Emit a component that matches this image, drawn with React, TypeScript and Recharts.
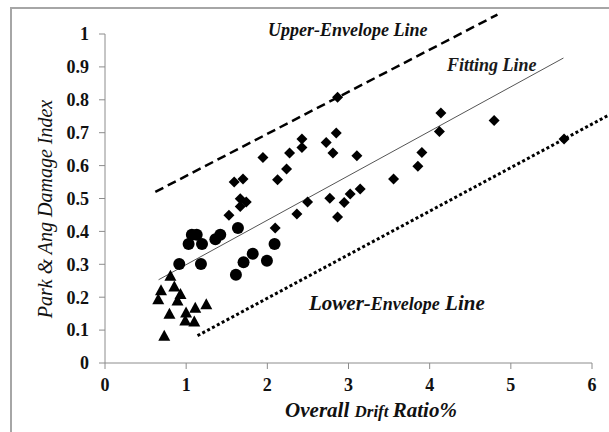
import React from "react";
import { ScatterChart, Scatter, XAxis, YAxis, ReferenceLine } from "recharts";

const triangles = [
  { x: 0.806, y: 0.263 }, { x: 0.854, y: 0.231 }, { x: 0.69, y: 0.219 },
  { x: 0.656, y: 0.192 }, { x: 0.93, y: 0.208 }, { x: 0.893, y: 0.188 },
  { x: 0.794, y: 0.148 }, { x: 0.999, y: 0.152 }, { x: 1.112, y: 0.166 },
  { x: 1.248, y: 0.177 }, { x: 0.989, y: 0.127 }, { x: 1.1, y: 0.124 },
  { x: 0.73, y: 0.081 },
];

const circles = [
  { x: 0.915, y: 0.301 }, { x: 1.03, y: 0.362 }, { x: 1.07, y: 0.39 },
  { x: 1.13, y: 0.39 }, { x: 1.195, y: 0.362 }, { x: 1.182, y: 0.301 },
  { x: 1.36, y: 0.376 }, { x: 1.42, y: 0.39 }, { x: 1.638, y: 0.41 },
  { x: 1.613, y: 0.268 }, { x: 1.707, y: 0.306 }, { x: 1.82, y: 0.332 },
  { x: 1.995, y: 0.311 }, { x: 2.089, y: 0.362 },
];

const diamonds = [
  { x: 1.527, y: 0.449 }, { x: 1.592, y: 0.55 }, { x: 1.7, y: 0.559 },
  { x: 1.666, y: 0.499 }, { x: 1.74, y: 0.489 }, { x: 1.666, y: 0.476 },
  { x: 1.946, y: 0.625 }, { x: 2.126, y: 0.557 }, { x: 2.237, y: 0.59 },
  { x: 2.274, y: 0.638 }, { x: 2.426, y: 0.681 }, { x: 2.426, y: 0.655 },
  { x: 2.097, y: 0.41 }, { x: 2.364, y: 0.453 }, { x: 2.496, y: 0.489 },
  { x: 2.725, y: 0.67 }, { x: 2.77, y: 0.501 }, { x: 2.808, y: 0.638 },
  { x: 2.849, y: 0.699 }, { x: 2.865, y: 0.808 }, { x: 3.103, y: 0.63 },
  { x: 2.865, y: 0.444 }, { x: 2.947, y: 0.488 }, { x: 3.021, y: 0.514 },
  { x: 3.144, y: 0.529 }, { x: 3.555, y: 0.559 }, { x: 3.855, y: 0.598 },
  { x: 3.904, y: 0.64 }, { x: 4.12, y: 0.704 }, { x: 4.138, y: 0.76 },
  { x: 4.794, y: 0.737 }, { x: 5.656, y: 0.681 },
];

const upperLine = [{ x: 0.62, y: 0.52 }, { x: 4.835, y: 1.059 }];
const fittingLine = [{ x: 0.66, y: 0.253 }, { x: 5.648, y: 0.927 }];
const lowerLine = [{ x: 1.14, y: 0.083 }, { x: 6.21, y: 0.754 }];

const xTicks = [0, 1, 2, 3, 4, 5, 6];
const yTicks = [0, 0.1, 0.2, 0.3, 0.4, 0.5, 0.6, 0.7, 0.8, 0.9, 1];

const SERIF = "'Liberation Serif', 'Times New Roman', serif";

const Tri = (p: any) => {
  const { cx, cy } = p;
  if (cx == null || cy == null) return null;
  const h = 11, w = 12;
  return (
    <polygon
      points={`${cx},${cy - h * 0.6} ${cx - w / 2},${cy + h * 0.4} ${cx + w / 2},${cy + h * 0.4}`}
      fill="#000"
    />
  );
};

const Dot = (p: any) => {
  const { cx, cy } = p;
  if (cx == null || cy == null) return null;
  return <circle cx={cx} cy={cy} r={6} fill="#000" />;
};

const Dia = (p: any) => {
  const { cx, cy } = p;
  if (cx == null || cy == null) return null;
  const r = 5.5;
  return (
    <polygon
      points={`${cx},${cy - r} ${cx + r},${cy} ${cx},${cy + r} ${cx - r},${cy}`}
      fill="#000"
    />
  );
};

const tickStyle = { fontFamily: SERIF, fontWeight: 700, fontSize: 18, fill: "#111" };

export default function App() {
  return (
    <div
      style={{
        position: "fixed",
        left: 0,
        top: 0,
        width: 609,
        height: 432,
        overflow: "hidden",
        background: "#fff",
      }}
    >
      <div
        style={{
          position: "absolute",
          left: 10,
          top: 7,
          width: 640,
          height: 460,
          borderLeft: "2px solid #a6a6a6",
          borderTop: "2px solid #a6a6a6",
        }}
      />
      <div style={{ position: "absolute", left: 0, top: 0 }}>
        <ScatterChart
          width={609}
          height={432}
          margin={{ top: 34, right: 17, bottom: 39, left: 0 }}
        >
          <XAxis
            type="number"
            dataKey="x"
            domain={[0, 6]}
            ticks={xTicks}
            height={30}
            tickSize={6}
            tickMargin={9}
            stroke="#8c8c8c"
            tick={tickStyle}
            interval={0}
          />
          <YAxis
            type="number"
            dataKey="y"
            domain={[0, 1]}
            ticks={yTicks}
            width={105}
            tickSize={6}
            tickMargin={10}
            stroke="#8c8c8c"
            tick={tickStyle}
            interval={0}
          />
          <ReferenceLine
            segment={upperLine}
            ifOverflow="visible"
            stroke="#000"
            strokeWidth={2.5}
            strokeDasharray="9 5"
          />
          <ReferenceLine
            segment={fittingLine}
            ifOverflow="visible"
            stroke="#555"
            strokeWidth={1}
          />
          <ReferenceLine
            segment={lowerLine}
            ifOverflow="visible"
            stroke="#000"
            strokeWidth={3}
            strokeDasharray="3 2.5"
          />
          <Scatter data={triangles} shape={Tri} isAnimationActive={false} />
          <Scatter data={circles} shape={Dot} isAnimationActive={false} />
          <Scatter data={diamonds} shape={Dia} isAnimationActive={false} />
        </ScatterChart>
      </div>
      <svg
        width={609}
        height={432}
        style={{ position: "absolute", left: 0, top: 0, pointerEvents: "none" }}
      >
        <g fontFamily={SERIF} fontStyle="italic" fontWeight={700} fill="#111">
          <text x={268} y={36} fontSize={18}>Upper-Envelope Line</text>
          <text x={447} y={71} fontSize={18} fill="#1a1a1a">Fitting Line</text>
          <text x={309} y={310}>
            <tspan fontSize={21}>Lower-</tspan>
            <tspan fontSize={18}>Envelope</tspan>
            <tspan fontSize={21}> Line</tspan>
          </text>
          <text x={371} y={417} textAnchor="middle">
            <tspan fontSize={21}>Overall </tspan>
            <tspan fontSize={17}>Drift </tspan>
            <tspan fontSize={21}>Ratio%</tspan>
          </text>
        </g>
        <text
          x={0}
          y={0}
          transform="translate(52,209) rotate(-90)"
          textAnchor="middle"
          fontFamily={SERIF}
          fontStyle="italic"
          fontSize={20}
          fill="#111"
        >
          Park &amp; Ang Damage Index
        </text>
      </svg>
    </div>
  );
}
